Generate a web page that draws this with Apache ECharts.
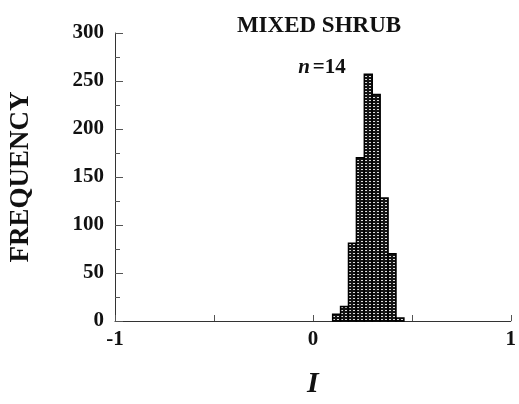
<!DOCTYPE html>
<html>
<head>
<meta charset="utf-8">
<script src="https://cdn.jsdelivr.net/npm/echarts@6/dist/echarts.min.js"></script>
<style>
html,body{margin:0;padding:0;background:#fff;}
#c{width:519px;height:404px;}
</style>
</head>
<body>
<div id="c"></div>
<script>
// Histogram of I (mixed shrub, n = 14)
const binLeft = [0.10, 0.14, 0.18, 0.22, 0.26, 0.30, 0.34, 0.38, 0.42];
const binRight = [0.14, 0.18, 0.22, 0.26, 0.30, 0.34, 0.38, 0.42, 0.46];
const counts = [7, 15, 81, 170, 257, 236, 128, 70, 3];
const xTicks = [-1, 0, 1];
const yTicks = [0, 50, 100, 150, 200, 250, 300];
const titleText = 'MIXED SHRUB';
const yName = 'FREQUENCY';
const xName = 'I';

const serif = '"Liberation Serif", "Times New Roman", "DejaVu Serif", serif';

// dotted bar fill pattern
const pc = document.createElement('canvas');
pc.width = 4; pc.height = 3;
const pctx = pc.getContext('2d');
pctx.fillStyle = '#141414';
pctx.fillRect(0, 0, 4, 3);
pctx.fillStyle = '#dcdcdc';
pctx.fillRect(1, 1, 2, 1);

const data = binLeft.map((l, i) => [l, binRight[i], counts[i]]);

const chart = echarts.init(document.getElementById('c'), null, {renderer: 'canvas'});
chart.setOption({
  backgroundColor: '#fff',
  animation: false,
  grid: {left: 110, right: 7, top: 33, bottom: 82, containLabel: false},
  title: [
    {text: titleText, left: 314, top: 10, textAlign: 'center',
     textStyle: {fontFamily: serif, fontWeight: 'bold', fontSize: 23, color: '#111'}},
    {text: '{i|n}{r|=14}', left: 317, top: 52, textAlign: 'center',
     textStyle: {rich: {
       i: {fontFamily: serif, fontWeight: 'bold', fontStyle: 'italic', fontSize: 21, color: '#111', padding: [0, 3, 0, 0]},
       r: {fontFamily: serif, fontWeight: 'bold', fontSize: 21, color: '#111'}
     }}}
  ],
  xAxis: {
    type: 'value', min: -1, max: 1, interval: 1,
    name: xName, nameLocation: 'middle', nameGap: 48,
    nameTextStyle: {fontFamily: serif, fontWeight: 'bold', fontStyle: 'italic', fontSize: 30, color: '#111'},
    axisLine: {show: true, onZero: false, lineStyle: {color: '#333', width: 1}},
    axisTick: {show: true, inside: true, length: 6, lineStyle: {color: '#555'}},
    minorTick: {show: true, splitNumber: 2, length: 6, lineStyle: {color: '#555'}},
    splitLine: {show: false},
    axisLabel: {
      fontFamily: serif, fontWeight: 'bold', fontSize: 21, color: '#111', margin: 8,
      formatter: v => xTicks.includes(v) ? (v < 0 ? '-' + Math.abs(v) : String(v)) : ''
    }
  },
  yAxis: {
    type: 'value', min: 0, max: 300, interval: 50,
    name: yName, nameLocation: 'middle', nameGap: 80, nameRotate: 90,
    nameTextStyle: {fontFamily: serif, fontWeight: 'bold', fontSize: 27, color: '#111'},
    axisLine: {show: true, onZero: false, lineStyle: {color: '#333', width: 1}},
    axisTick: {show: true, inside: true, length: 8, lineStyle: {color: '#555'}},
    minorTick: {show: true, splitNumber: 2, length: 5, lineStyle: {color: '#555'}},
    splitLine: {show: false},
    axisLabel: {
      fontFamily: serif, fontWeight: 'bold', fontSize: 21, color: '#111', margin: 11,
      formatter: v => yTicks.includes(v) ? String(v) : ''
    }
  },
  series: [{
    type: 'custom',
    data: data,
    encode: {x: [0, 1], y: 2},
    renderItem: function (params, api) {
      const p0 = api.coord([api.value(0), 0]);
      const p1 = api.coord([api.value(1), api.value(2)]);
      return {
        type: 'rect',
        shape: {x: p0[0], y: p1[1], width: p1[0] - p0[0], height: p0[1] - p1[1]},
        style: {fill: {image: pc, repeat: 'repeat'}, stroke: '#000', lineWidth: 1.5}
      };
    }
  }]
});
</script>
</body>
</html>
